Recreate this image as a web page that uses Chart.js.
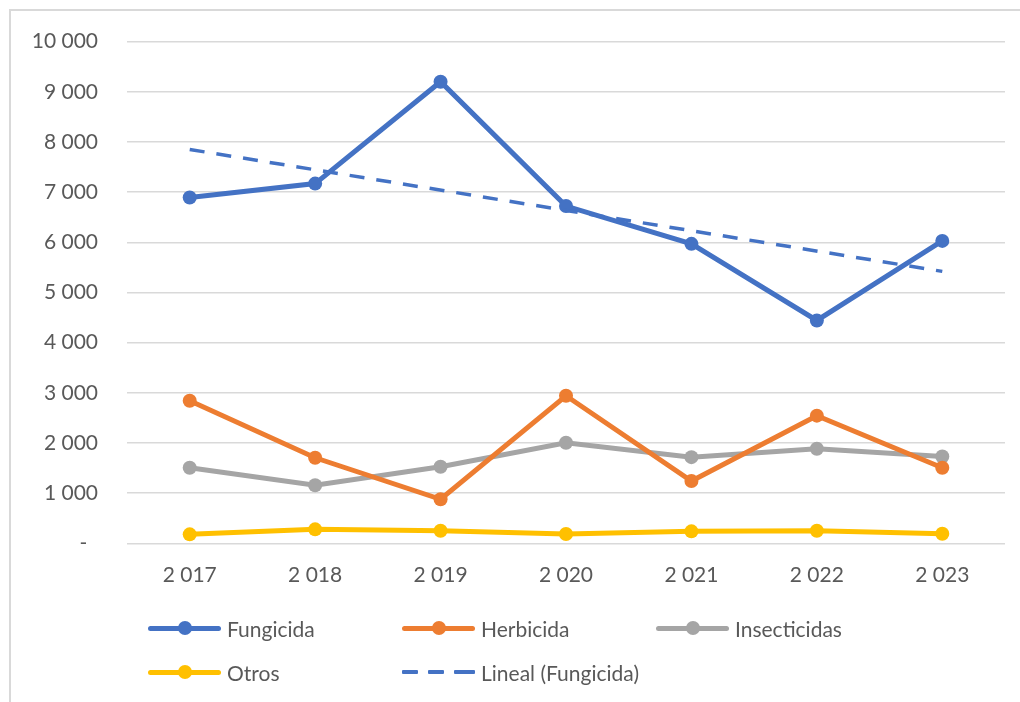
<!DOCTYPE html>
<html>
<head>
<meta charset="utf-8">
<script src="https://cdn.jsdelivr.net/npm/chart.js@4"></script>
<style>
  html, body { margin: 0; padding: 0; background: #fff; }
  body { width: 1020px; height: 702px; position: relative; overflow: hidden; font-family: Lato, "Open Sans", sans-serif; }
  #frame { position: absolute; left: 9px; top: 9px; width: 1040px; height: 720px; border: 2px solid #d9d9d9; box-sizing: border-box; }
  #wrap { position: absolute; left: 0; top: 0; width: 1020px; height: 702px; }
  .leg { position: absolute; height: 24px; display: flex; align-items: center; color: #595959; font-size: 21px; }
  .leg .sym { position: relative; width: 73px; height: 24px; margin-right: 6px; }
  .leg .ln { position: absolute; left: 0; right: 0; top: 9.5px; height: 5px; border-radius: 3px; }
  .leg .dot { position: absolute; left: 29.5px; top: 5px; width: 14px; height: 14px; border-radius: 50%; }
  .leg .dash { position: absolute; top: 10px; height: 4px; width: 16px; border-radius: 1px; }
</style>
</head>
<body>
<div id="frame"></div>
<div id="wrap"><canvas id="c" width="1020" height="702"></canvas></div>
<div id="legend"></div>
<script>
const categories = ['2 017', '2 018', '2 019', '2 020', '2 021', '2 022', '2 023'];
const fungicida = [6893, 7170, 9201, 6722, 5969, 4442, 6028];
const herbicida = [2842, 1705, 878, 2941, 1241, 2544, 1507];
const insecticidas = [1507, 1156, 1527, 2003, 1717, 1884, 1731];
const otros = [178, 278, 250, 184, 238, 250, 190];
// Excel linear trendline of Fungicida: endpoints
const linealFungicida = [7850, null, null, null, null, null, 5420];
const yTickLabels = ['-  ', '1 000', '2 000', '3 000', '4 000', '5 000', '6 000', '7 000', '8 000', '9 000', '10 000'];
const seriesNames = ['Fungicida', 'Herbicida', 'Insecticidas', 'Otros', 'Lineal (Fungicida)'];
const colors = ['#4472C4', '#ED7D31', '#A5A5A5', '#FFC000', '#4472C4'];

const textColor = '#595959';
const font = { family: 'Lato, "Open Sans", sans-serif', size: 21 };

function lineDs(label, data, color) {
  return {
    label, data, borderColor: color, backgroundColor: color,
    borderWidth: 5, pointRadius: 7, pointHoverRadius: 7,
    pointBorderWidth: 0, tension: 0, fill: false
  };
}

new Chart(document.getElementById('c'), {
  type: 'line',
  data: {
    labels: categories,
    datasets: [
      lineDs(seriesNames[0], fungicida, colors[0]),
      lineDs(seriesNames[1], herbicida, colors[1]),
      lineDs(seriesNames[2], insecticidas, colors[2]),
      lineDs(seriesNames[3], otros, colors[3]),
      {
        label: seriesNames[4], data: linealFungicida, borderColor: colors[4],
        borderWidth: 3.5, borderDash: [15, 12], pointRadius: 0, spanGaps: true,
        fill: false, borderCapStyle: 'butt', order: -1
      }
    ]
  },
  options: {
    responsive: false,
    animation: false,
    layout: { padding: { left: 0, right: 15, top: 39, bottom: 0 } },
    plugins: { legend: { display: false }, tooltip: { enabled: false } },
    scales: {
      x: {
        offset: true,
        grid: { display: false, drawTicks: false },
        border: { display: false },
        ticks: { color: textColor, font, padding: 19, maxRotation: 0, autoSkip: false },
        afterFit(s) { s.height = 702 - 543.3; }
      },
      y: {
        min: 0, max: 10000,
        grid: { color: '#d9d9d9', lineWidth: 1.5, drawTicks: false },
        border: { display: false },
        ticks: {
          stepSize: 1000, color: textColor, font, padding: 29,
          callback: (v) => yTickLabels[Math.round(v / 1000)]
        },
        afterFit(s) { s.width = 127; }
      }
    }
  }
});

// HTML legend
const legendItems = [
  { i: 0, x: 148, y: 628 }, { i: 1, x: 402, y: 628 }, { i: 2, x: 656, y: 628 },
  { i: 3, x: 148, y: 672 }, { i: 4, x: 402, y: 672 }
];
const legendEl = document.getElementById('legend');
legendItems.forEach(({ i, x, y }) => {
  const d = document.createElement('div');
  d.className = 'leg';
  d.style.left = x + 'px';
  d.style.top = (y - 12) + 'px';
  const sym = document.createElement('div');
  sym.className = 'sym';
  if (i === 4) {
    [0, 26, 52].forEach(off => {
      const ds = document.createElement('div');
      ds.className = 'dash';
      ds.style.left = off + 'px';
      ds.style.width = (off === 52 ? 21 : 16) + 'px';
      ds.style.background = colors[i];
      sym.appendChild(ds);
    });
  } else {
    const ln = document.createElement('div');
    ln.className = 'ln'; ln.style.background = colors[i];
    const dot = document.createElement('div');
    dot.className = 'dot'; dot.style.background = colors[i];
    sym.appendChild(ln); sym.appendChild(dot);
  }
  const t = document.createElement('span');
  t.textContent = seriesNames[i];
  d.appendChild(sym); d.appendChild(t);
  legendEl.appendChild(d);
});
</script>
</body>
</html>
